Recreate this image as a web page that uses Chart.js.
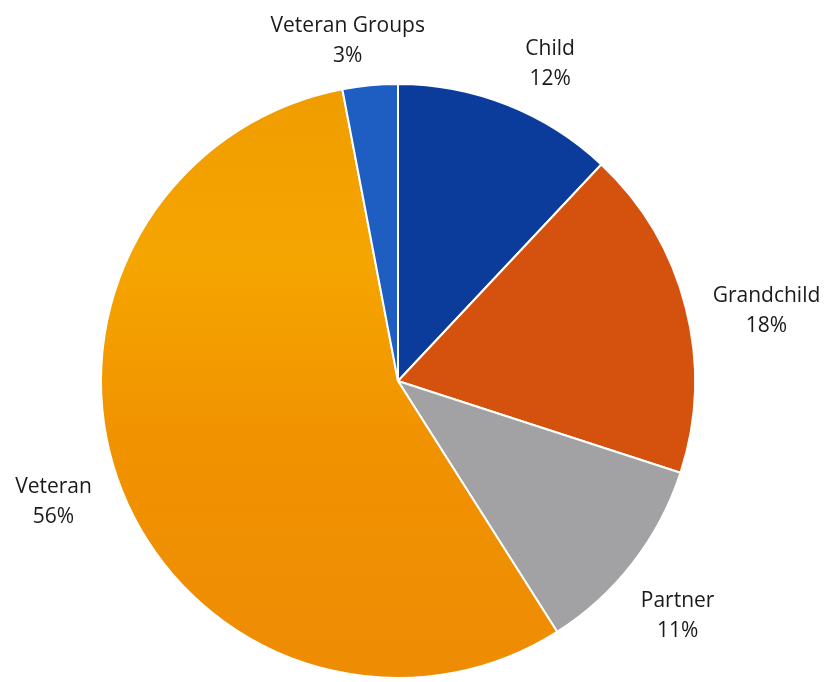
<!DOCTYPE html>
<html>
<head>
<meta charset="utf-8">
<script src="https://cdn.jsdelivr.net/npm/chart.js@4"></script>
<style>
  html, body { margin: 0; padding: 0; background: #fff; }
  #wrap { width: 825px; height: 682px; }
</style>
</head>
<body>
<div id="wrap"><canvas id="pie"></canvas></div>
<script>
// slices clockwise from 12 o'clock
const categories = ['Child', 'Grandchild', 'Partner', 'Veteran', 'Veteran Groups'];
const shares = [12, 18, 11, 56, 3];
const sliceColors = ['#0b3c9c', '#d5520e', '#a2a2a4', '#f29800', '#1e5ec2'];
// how far each label sits outside the rim, and a small angular nudge (degrees)
const labelGap = [55, 78, 68, 68, 47];
const labelTurn = [4, 3.7, 2.2, 2.3, -3];

const outsideLabels = {
    id: 'outsideLabels',
    afterDatasetsDraw(chart) {
        const ctx = chart.ctx;
        const arcs = chart.getDatasetMeta(0).data;
        ctx.save();
        ctx.fillStyle = '#1a1a1a';
        ctx.font = '21px "Open Sans", sans-serif';
        ctx.textAlign = 'center';
        ctx.textBaseline = 'middle';
        arcs.forEach((arc, i) => {
            const mid = (arc.startAngle + arc.endAngle) / 2 + labelTurn[i] * Math.PI / 180;
            const d = arc.outerRadius + labelGap[i];
            const x = arc.x + Math.cos(mid) * d;
            const y = arc.y + Math.sin(mid) * d;
            ctx.fillText(categories[i], x, y - 15);
            ctx.fillText(shares[i] + '%', x, y + 15);
        });
        ctx.restore();
    }
};

new Chart(document.getElementById('pie'), {
    type: 'pie',
    data: {
        labels: categories,
        datasets: [{
            data: shares,
            backgroundColor: (c) => {
                if (c.dataIndex !== 3 || !c.chart.chartArea) return sliceColors[c.dataIndex];
                const a = c.chart.chartArea;
                const g = c.chart.ctx.createLinearGradient(0, a.top, 0, a.bottom);
                g.addColorStop(0, '#f09c00');
                g.addColorStop(0.3, '#f5a500');
                g.addColorStop(0.6, '#f19200');
                g.addColorStop(1, '#ee8c05');
                return g;
            },
            borderColor: '#ffffff',
            borderWidth: 2
        }]
    },
    options: {
        responsive: true,
        maintainAspectRatio: false,
        animation: false,
        layout: { padding: { left: 100, right: 129, top: 83, bottom: 3 } },
        plugins: {
            legend: { display: false },
            tooltip: { enabled: false }
        }
    },
    plugins: [outsideLabels]
});
</script>
</body>
</html>
